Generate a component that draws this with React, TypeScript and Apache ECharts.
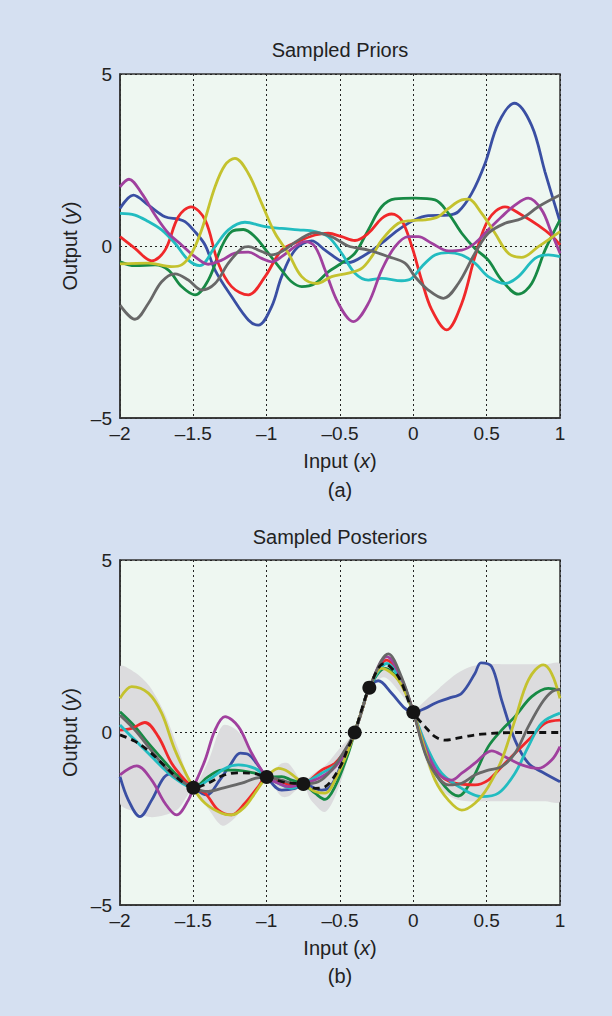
import React, { useEffect, useRef } from 'react';
import * as echarts from 'echarts';

// ---------- Sampled priors (x, y) ----------
const priorBlue = [[-2,1.09],[-1.909,1.48],[-1.807,1.19],[-1.693,0.85],[-1.602,0.78],[-1.557,0.71],[-1.5,0.47],[-1.42,0.03],[-1.352,-0.7],[-1.239,-1.47],[-1.125,-2.15],[-1.057,-2.3],[-0.966,-1.76],[-0.898,-0.89],[-0.807,-0.12],[-0.693,0.15],[-0.602,-0.12],[-0.489,-0.45],[-0.443,-0.48],[-0.33,-0.26],[-0.216,0.08],[-0.102,0.47],[0.011,0.76],[0.102,0.88],[0.239,0.9],[0.307,1.0],[0.398,1.53],[0.489,2.4],[0.58,3.57],[0.689,4.15],[0.807,3.5],[0.898,2.15],[1,0.7]];
const priorRed = [[-2,0.27],[-1.898,-0.07],[-1.784,-0.43],[-1.693,-0.12],[-1.602,0.85],[-1.516,1.14],[-1.42,0.76],[-1.33,-0.5],[-1.239,-1.18],[-1.125,-1.42],[-1.011,-0.89],[-0.898,-0.12],[-0.784,0.13],[-0.67,0.32],[-0.58,0.37],[-0.489,0.27],[-0.398,0.16],[-0.307,0.37],[-0.216,0.8],[-0.148,0.93],[-0.08,0.75],[-0.011,0.0],[0.057,-1.0],[0.125,-1.85],[0.227,-2.44],[0.33,-1.67],[0.42,-0.31],[0.511,0.76],[0.625,1.14],[0.739,0.9],[0.852,0.6],[0.943,0.3],[1,0.03]];
const priorYellow = [[-2,-0.52],[-1.807,-0.5],[-1.648,-0.6],[-1.58,-0.55],[-1.511,-0.21],[-1.443,0.47],[-1.352,1.72],[-1.284,2.35],[-1.216,2.55],[-1.125,2.11],[-1.034,1.24],[-0.943,0.37],[-0.852,-0.21],[-0.761,-0.89],[-0.659,-1.09],[-0.557,-0.89],[-0.443,-0.79],[-0.352,-0.65],[-0.284,-0.31],[-0.216,0.17],[-0.102,0.66],[-0.011,0.74],[0.08,0.76],[0.17,0.85],[0.239,1.09],[0.33,1.34],[0.375,1.36],[0.466,0.95],[0.557,0.37],[0.648,-0.21],[0.739,-0.33],[0.852,-0.02],[1,0.42]];
const priorCyan = [[-2,0.95],[-1.898,0.9],[-1.807,0.71],[-1.716,0.47],[-1.625,0.08],[-1.534,-0.41],[-1.455,-0.57],[-1.352,-0.02],[-1.261,0.47],[-1.148,0.69],[-1.011,0.56],[-0.898,0.51],[-0.784,0.47],[-0.67,0.42],[-0.58,0.27],[-0.489,-0.21],[-0.398,-0.79],[-0.307,-0.99],[-0.216,-0.94],[-0.08,-1.01],[-0.011,-0.94],[0.057,-0.6],[0.148,-0.26],[0.239,-0.19],[0.33,-0.26],[0.42,-0.5],[0.511,-0.89],[0.625,-1.09],[0.716,-0.89],[0.83,-0.36],[0.92,-0.26],[1,-0.31]];
const priorMagenta = [[-2,1.72],[-1.939,1.94],[-1.852,1.53],[-1.761,0.9],[-1.67,0.37],[-1.58,0.03],[-1.489,-0.31],[-1.398,-0.53],[-1.307,-0.41],[-1.216,-0.21],[-1.125,-0.18],[-1.034,-0.36],[-0.966,-0.46],[-0.898,-0.31],[-0.807,-0.02],[-0.739,0.13],[-0.67,-0.02],[-0.602,-0.7],[-0.511,-1.67],[-0.409,-2.2],[-0.307,-1.67],[-0.216,-0.7],[-0.125,-0.02],[-0.034,0.27],[0.034,0.27],[0.125,0.08],[0.239,-0.14],[0.33,-0.12],[0.42,0.08],[0.511,0.47],[0.602,0.85],[0.693,1.19],[0.784,1.39],[0.875,1.05],[0.943,0.37],[1,-0.21]];
const priorGreen = [[-2,-0.46],[-1.898,-0.57],[-1.761,-0.55],[-1.67,-0.7],[-1.58,-1.18],[-1.489,-1.42],[-1.398,-0.99],[-1.307,-0.02],[-1.239,0.42],[-1.159,0.48],[-1.08,0.27],[-0.989,-0.21],[-0.898,-0.7],[-0.83,-1.04],[-0.761,-1.18],[-0.67,-1.09],[-0.58,-0.75],[-0.489,-0.5],[-0.398,-0.21],[-0.307,0.47],[-0.216,1.14],[-0.125,1.37],[0.011,1.39],[0.148,1.34],[0.239,0.95],[0.33,0.37],[0.42,-0.07],[0.511,-0.41],[0.602,-0.99],[0.716,-1.4],[0.807,-1.09],[0.898,-0.12],[1,0.76]];
const priorGray = [[-2,-1.72],[-1.898,-2.13],[-1.807,-1.67],[-1.716,-1.04],[-1.625,-0.81],[-1.534,-0.99],[-1.443,-1.28],[-1.352,-1.09],[-1.261,-0.5],[-1.17,-0.07],[-1.125,-0.02],[-1.034,-0.16],[-0.966,-0.26],[-0.898,-0.16],[-0.784,0.17],[-0.67,0.39],[-0.557,0.27],[-0.443,0],[-0.307,-0.12],[-0.17,-0.31],[-0.057,-0.5],[0.011,-0.89],[0.102,-1.28],[0.205,-1.52],[0.307,-1.09],[0.42,-0.21],[0.511,0.37],[0.625,0.66],[0.739,0.8],[0.852,1.14],[1,1.48]];

// ---------- Sampled posteriors (x, y) ----------
const postBlue = [[-2,-1.28],[-1.943,-1.96],[-1.864,-2.44],[-1.784,-1.96],[-1.7,-1.3],[-1.64,-1.19],[-1.57,-1.35],[-1.5,-1.6],[-1.41,-1.81],[-1.32,-1.38],[-1.25,-0.95],[-1.18,-0.6],[-1.12,-0.65],[-1.07,-0.89],[-1,-1.29],[-0.898,-1.67],[-0.807,-1.62],[-0.75,-1.49],[-0.625,-1.67],[-0.58,-1.62],[-0.534,-1.35],[-0.489,-0.9],[-0.443,-0.45],[-0.4,0],[-0.35,0.65],[-0.3,1.3],[-0.239,1.5],[-0.148,1.14],[-0.057,0.7],[0,0.59],[0.08,0.7],[0.148,0.85],[0.239,0.99],[0.33,1.14],[0.42,1.71],[0.461,2.02],[0.534,1.91],[0.602,0.94],[0.693,-0.22],[0.784,-0.89],[0.875,-1.14],[1,-1.43]];
const postRed = [[-2,0.07],[-1.92,0.12],[-1.83,0.29],[-1.739,-0.12],[-1.648,-0.89],[-1.557,-1.38],[-1.5,-1.6],[-1.42,-1.76],[-1.33,-2.25],[-1.239,-2.39],[-1.148,-2.05],[-1.057,-1.57],[-1,-1.29],[-0.898,-1.43],[-0.83,-1.52],[-0.75,-1.49],[-0.625,-1.09],[-0.534,-0.89],[-0.443,-0.4],[-0.4,0],[-0.35,0.65],[-0.3,1.3],[-0.182,2.1],[-0.08,1.5],[0,0.59],[0.102,-0.8],[0.193,-1.28],[0.284,-1.47],[0.42,-1.52],[0.511,-1.38],[0.602,-0.99],[0.693,-0.6],[0.807,-0.12],[0.898,0.27],[1,0.36]];
const postYellow = [[-2,0.99],[-1.92,1.33],[-1.807,1.14],[-1.716,0.56],[-1.625,-0.51],[-1.5,-1.6],[-1.42,-2.05],[-1.307,-2.34],[-1.239,-2.39],[-1.148,-2.15],[-1.08,-1.76],[-1,-1.29],[-0.92,-1.04],[-0.852,-1.14],[-0.75,-1.49],[-0.67,-1.71],[-0.602,-1.76],[-0.534,-1.38],[-0.443,-0.51],[-0.4,0],[-0.35,0.65],[-0.3,1.3],[-0.216,1.86],[-0.102,1.52],[0,0.59],[0.08,-0.51],[0.148,-1.38],[0.239,-1.96],[0.33,-2.25],[0.42,-2.05],[0.511,-1.57],[0.602,-0.8],[0.693,0.36],[0.784,1.52],[0.886,1.96],[0.943,1.71],[1,0.99]];
const postCyan = [[-2,0.22],[-1.898,-0.22],[-1.807,-0.6],[-1.716,-0.99],[-1.625,-1.33],[-1.5,-1.6],[-1.398,-1.38],[-1.284,-1.04],[-1.193,-0.94],[-1.08,-1.04],[-1,-1.29],[-0.898,-1.52],[-0.83,-1.62],[-0.75,-1.49],[-0.625,-1.18],[-0.534,-0.95],[-0.443,-0.45],[-0.4,0],[-0.35,0.65],[-0.3,1.3],[-0.18,2.0],[-0.08,1.45],[0,0.59],[0.102,-0.51],[0.193,-1.18],[0.33,-1.62],[0.466,-1.86],[0.58,-1.76],[0.693,-1.18],[0.784,-0.41],[0.875,0.27],[1,0.56]];
const postGreen = [[-2,0.6],[-1.898,0.17],[-1.807,-0.31],[-1.716,-0.75],[-1.625,-1.18],[-1.5,-1.6],[-1.398,-1.28],[-1.307,-1.09],[-1.216,-1.09],[-1.08,-1.18],[-1,-1.29],[-0.898,-1.28],[-0.83,-1.38],[-0.75,-1.49],[-0.67,-1.76],[-0.602,-1.94],[-0.534,-1.57],[-0.443,-0.6],[-0.4,0],[-0.35,0.65],[-0.3,1.3],[-0.193,1.86],[-0.08,1.4],[0,0.59],[0.102,-0.8],[0.216,-1.57],[0.307,-1.84],[0.398,-1.38],[0.511,-0.41],[0.602,0.07],[0.693,0.46],[0.807,1.04],[0.92,1.28],[1,1.23]];
const postGray = [[-2,0.5],[-1.898,0.07],[-1.807,-0.41],[-1.716,-0.89],[-1.625,-1.28],[-1.5,-1.6],[-1.398,-1.71],[-1.307,-1.62],[-1.17,-1.47],[-1.08,-1.33],[-1,-1.29],[-0.898,-1.38],[-0.83,-1.47],[-0.75,-1.49],[-0.648,-1.43],[-0.557,-1.09],[-0.48,-0.6],[-0.4,0],[-0.35,0.65],[-0.3,1.3],[-0.17,2.28],[-0.08,1.6],[0,0.59],[0.08,-0.6],[0.148,-1.18],[0.239,-1.52],[0.33,-1.47],[0.42,-1.23],[0.511,-1.09],[0.602,-0.99],[0.693,-0.6],[0.784,0.17],[0.875,0.85],[0.943,1.18],[1,1.25]];
const postMagenta = [[-2,-1.23],[-1.886,-0.97],[-1.784,-1.38],[-1.693,-2.05],[-1.614,-2.39],[-1.534,-1.96],[-1.5,-1.6],[-1.42,-0.8],[-1.352,0.07],[-1.284,0.46],[-1.193,0.17],[-1.102,-0.6],[-1,-1.29],[-0.92,-1.47],[-0.852,-1.57],[-0.75,-1.49],[-0.625,-1.28],[-0.534,-1.0],[-0.443,-0.45],[-0.4,0],[-0.35,0.65],[-0.3,1.3],[-0.18,2.2],[-0.08,1.55],[0,0.59],[0.08,-0.41],[0.17,-1.18],[0.261,-1.38],[0.33,-1.18],[0.42,-0.89],[0.534,-0.53],[0.625,-0.7],[0.739,-0.94],[0.852,-1.04],[0.943,-0.8],[1,-0.41]];
const postMean = [[-2,-0.07],[-1.9,-0.25],[-1.8,-0.55],[-1.7,-0.95],[-1.6,-1.35],[-1.5,-1.6],[-1.4,-1.47],[-1.3,-1.25],[-1.2,-1.17],[-1.1,-1.18],[-1,-1.29],[-0.9,-1.42],[-0.83,-1.47],[-0.75,-1.49],[-0.67,-1.62],[-0.6,-1.57],[-0.5,-1.0],[-0.45,-0.5],[-0.4,0],[-0.35,0.7],[-0.3,1.3],[-0.2,2.0],[-0.1,1.6],[0,0.59],[0.08,0.17],[0.148,-0.12],[0.216,-0.22],[0.35,-0.12],[0.466,-0.05],[0.693,0],[1,0]];

// observations
const obsX = [-1.5, -1, -0.75, -0.4, -0.3, 0];
const obsY = [-1.6, -1.29, -1.49, 0, 1.3, 0.59];

// confidence band
const bandX = [-2,-1.9,-1.8,-1.7,-1.6,-1.5,-1.4,-1.3,-1.2,-1.1,-1.0,-0.9,-0.85,-0.75,-0.7,-0.6,-0.5,-0.4,-0.35,-0.3,-0.2,-0.1,0,0.05,0.1,0.15,0.2,0.3,0.4,0.5,0.6,0.7,0.8,0.9,1.0];
const bandUpper = [1.91,1.75,1.35,0.6,-0.5,-1.55,-0.85,0.2,0.05,-0.6,-1.25,-0.9,-0.9,-1.45,-1.25,-0.95,-0.45,0.03,0.85,1.33,2.25,1.85,0.62,0.8,1.0,1.18,1.38,1.72,1.92,1.98,1.98,1.98,1.98,1.98,1.98];
const bandLower = [-2.05,-2.3,-2.45,-2.4,-2.2,-1.65,-2.2,-2.7,-2.4,-1.8,-1.33,-1.85,-1.85,-1.53,-1.95,-2.3,-1.5,-0.03,0.45,1.27,1.6,1.2,0.56,-0.25,-1.0,-1.42,-1.72,-1.95,-2.0,-1.99,-1.99,-1.99,-1.99,-1.99,-1.99];

const C = {
  blue: '#3a4fa3',
  red: '#f0282a',
  yellow: '#c4c22e',
  cyan: '#22bcc0',
  magenta: '#a0409e',
  green: '#178a45',
  gray: '#686868',
};

const FONT = '"Liberation Sans", Arial, Helvetica, sans-serif';
const TXT = '#222';
const FS = 19;
const FS_T = 20;

function line(data: number[][], color: string, g: number, z = 2) {
  return {
    type: 'line',
    xAxisIndex: g,
    yAxisIndex: g,
    data,
    smooth: 0.35,
    showSymbol: false,
    symbol: 'none',
    z,
    lineStyle: { color, width: 2.8 },
    itemStyle: { color },
    silent: true,
  };
}

export default function App() {
  const ref = useRef<HTMLDivElement>(null);
  useEffect(() => {
    document.body.style.margin = '0';
    const chart = echarts.init(ref.current!, null, { renderer: 'svg' });

    const grids = [
      { left: 120, top: 74, width: 440, height: 344 },
      { left: 120, top: 560, width: 440, height: 345 },
    ];
    const fmt = (v: number) => (v < 0 ? '\u2013' + Math.abs(v) : String(v));
    const nameStyle = {
      fontSize: FS_T, fontFamily: FONT, color: TXT,
      rich: { i: { fontStyle: 'italic', fontSize: FS_T, fontFamily: FONT, color: TXT } },
    };
    const xAxes = grids.map((_, i) => ({
      type: 'value',
      gridIndex: i,
      min: -2,
      max: 1,
      interval: 0.5,
      name: 'Input ({i|x})',
      nameLocation: 'middle',
      nameGap: 33,
      nameTextStyle: nameStyle,
      axisLine: { show: true, onZero: false, lineStyle: { color: '#333', width: 1.5 } },
      axisTick: { show: false },
      axisLabel: { fontSize: FS, fontFamily: FONT, color: TXT, margin: 6, formatter: fmt },
      splitLine: { show: true, lineStyle: { color: '#222', width: 1, type: [2, 3] } },
    }));
    const yAxes = grids.map((_, i) => ({
      type: 'value',
      gridIndex: i,
      min: -5,
      max: 5,
      interval: 5,
      name: 'Output ({i|y})',
      nameLocation: 'middle',
      nameGap: 30,
      nameRotate: 90,
      nameTextStyle: nameStyle,
      axisLine: { show: true, onZero: false, lineStyle: { color: '#333', width: 1.5 } },
      axisTick: { show: false },
      axisLabel: { fontSize: FS, fontFamily: FONT, color: TXT, margin: 8, formatter: fmt },
      splitLine: { show: true, lineStyle: { color: '#222', width: 1, type: [2, 3] } },
    }));

    const series: any[] = [
      line(priorBlue, C.blue, 0),
      line(priorGreen, C.green, 0),
      line(priorRed, C.red, 0),
      line(priorCyan, C.cyan, 0),
      line(priorMagenta, C.magenta, 0),
      line(priorYellow, C.yellow, 0),
      line(priorGray, C.gray, 0),
      {
        type: 'custom', xAxisIndex: 1, yAxisIndex: 1, data: [[0, 0]], z: 1, silent: true,
        renderItem: (params: any, api: any) => {
          const top = bandX.map((x, i) => api.coord([x, bandUpper[i]]));
          const bot = bandX.map((x, i) => api.coord([x, bandLower[i]])).reverse();
          const cs = params.coordSys;
          return {
            type: 'polygon',
            shape: { points: top.concat(bot), smooth: 0.3 },
            style: { fill: '#dcdcde', stroke: 'none' },
            clipPath: { type: 'rect', shape: { x: cs.x, y: cs.y, width: cs.width, height: cs.height } },
          };
        },
      },
      line(postBlue, C.blue, 1),
      line(postGreen, C.green, 1),
      line(postRed, C.red, 1),
      line(postCyan, C.cyan, 1),
      line(postMagenta, C.magenta, 1),
      line(postYellow, C.yellow, 1),
      line(postGray, C.gray, 1),
      {
        type: 'line', xAxisIndex: 1, yAxisIndex: 1, data: postMean, smooth: 0.35,
        showSymbol: false, symbol: 'none', z: 3, silent: true,
        lineStyle: { color: '#111', width: 2.8, type: [7, 5] },
      },
      {
        type: 'scatter', xAxisIndex: 1, yAxisIndex: 1,
        data: obsX.map((x, i) => [x, obsY[i]]),
        symbolSize: 14, z: 4, silent: true,
        itemStyle: { color: '#151515', opacity: 1 },
      },
    ];

    const text = (s: string, x: number, y: number) => ({
      type: 'text', x, y, silent: true,
      style: { text: s, fontSize: FS_T, fontFamily: FONT, fill: TXT, align: 'center', verticalAlign: 'middle' },
    });

    chart.setOption({
      animation: false,
      backgroundColor: '#d5e0f1',
      grid: grids.map((g) => ({ ...g, show: true, backgroundColor: '#eef7f1', borderColor: '#333', borderWidth: 1.5 })),
      xAxis: xAxes,
      yAxis: yAxes,
      series,
      graphic: [
        text('Sampled Priors', 340, 50),
        text('(a)', 340, 490),
        text('Sampled Posteriors', 340, 537),
        text('(b)', 340, 976),
      ],
    });
    return () => chart.dispose();
  }, []);
  return <div ref={ref} style={{ position: 'absolute', left: 0, top: 0, width: 612, height: 1016 }} />;
}
